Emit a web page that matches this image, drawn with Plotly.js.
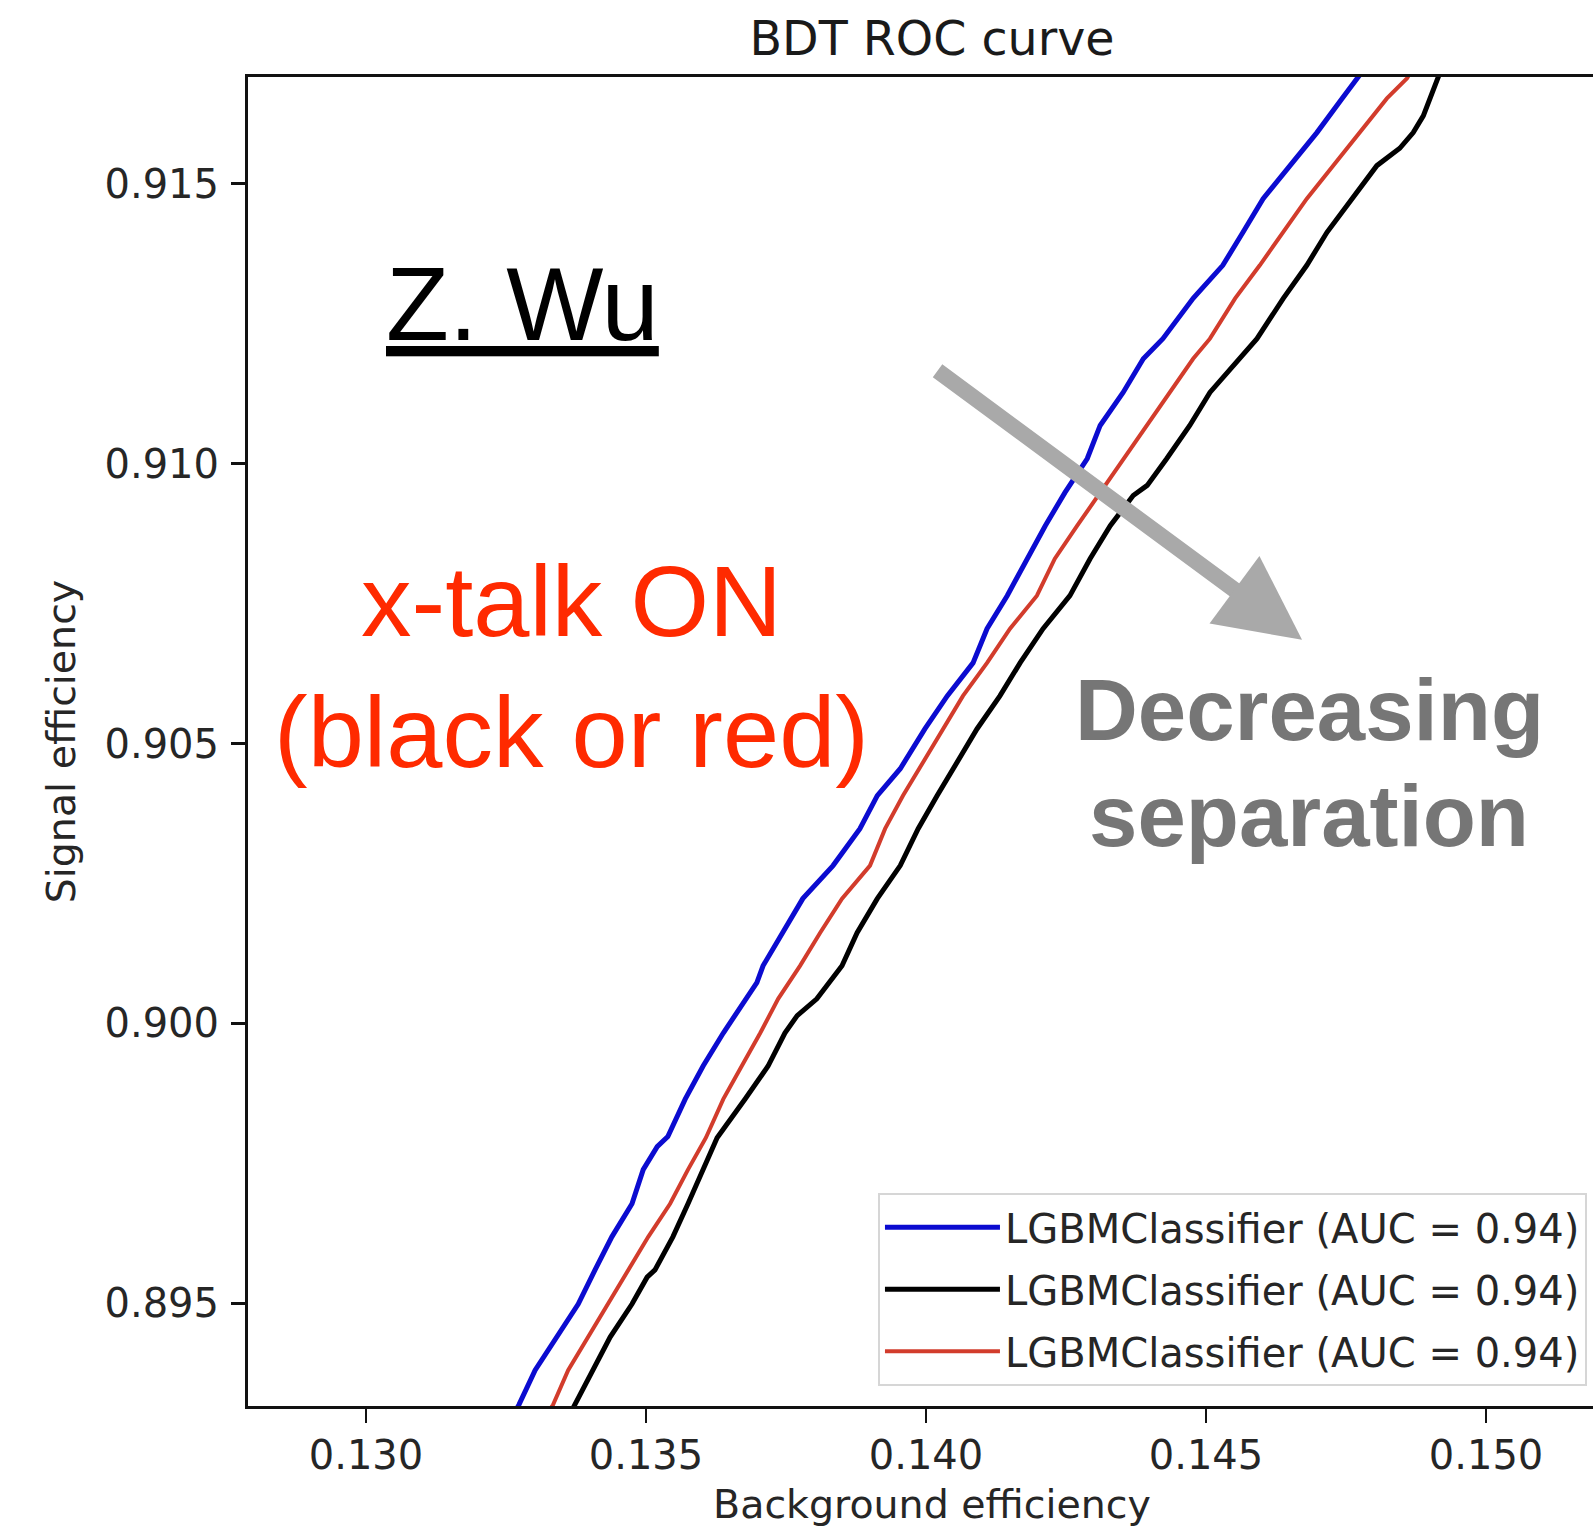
<!DOCTYPE html>
<html>
<head>
<meta charset="utf-8">
<script src="https://cdn.plot.ly/plotly-3.0.1.min.js"></script>
<style>
html, body { margin: 0; padding: 0; width: 1593px; height: 1527px; overflow: hidden; background: #fff; }
#chart { width: 1630px; height: 1527px; }
</style>
</head>
<body>
<div id="chart"></div>
<script>
// ---- Data ----
const seriesNames = ["LGBMClassifier (AUC = 0.94)", "LGBMClassifier (AUC = 0.94)", "LGBMClassifier (AUC = 0.94)"];
const seriesColors = ["#0b0bd0", "#000000", "#d23c2c"];

const bgEffBlue = [0.13266,0.13273,0.13302,0.13341,0.13379,0.13409,0.13439,0.13475,0.13495,0.13520,0.13539,0.13570,0.13602,0.13638,0.13677,0.13698,0.13709,0.13743,0.13780,0.13834,0.13882,0.13913,0.13954,0.13998,0.14038,0.14084,0.14109,0.14145,0.14180,0.14213,0.14248,0.14288,0.14311,0.14352,0.14388,0.14423,0.14477,0.14530,0.14566,0.14602,0.14650,0.14698,0.14743,0.14771,0.14782];
const sigEffBlue = [0.89306,0.89319,0.89381,0.89440,0.89499,0.89560,0.89619,0.89678,0.89739,0.89780,0.89798,0.89865,0.89924,0.89983,0.90044,0.90073,0.90103,0.90162,0.90223,0.90282,0.90348,0.90407,0.90455,0.90526,0.90585,0.90644,0.90705,0.90764,0.90830,0.90889,0.90948,0.91009,0.91068,0.91127,0.91187,0.91223,0.91295,0.91354,0.91413,0.91473,0.91532,0.91591,0.91652,0.91688,0.91704];

const bgEffBlack = [0.13366,0.13373,0.13404,0.13436,0.13475,0.13502,0.13516,0.13548,0.13575,0.13602,0.13627,0.13677,0.13718,0.13748,0.13770,0.13805,0.13850,0.13877,0.13913,0.13954,0.13986,0.14020,0.14055,0.14091,0.14132,0.14168,0.14209,0.14257,0.14293,0.14329,0.14370,0.14395,0.14430,0.14471,0.14507,0.14561,0.14591,0.14638,0.14680,0.14716,0.14761,0.14805,0.14846,0.14870,0.14888,0.14900,0.14914,0.14920];
const sigEffBlack = [0.89306,0.89319,0.89381,0.89440,0.89499,0.89547,0.89560,0.89619,0.89678,0.89739,0.89796,0.89865,0.89924,0.89983,0.90014,0.90044,0.90103,0.90162,0.90223,0.90282,0.90348,0.90407,0.90466,0.90526,0.90585,0.90644,0.90705,0.90764,0.90830,0.90889,0.90943,0.90961,0.91009,0.91068,0.91127,0.91187,0.91223,0.91295,0.91354,0.91413,0.91473,0.91532,0.91563,0.91591,0.91621,0.91652,0.91688,0.91704];

const bgEffRed = [0.13325,0.13334,0.13361,0.13396,0.13432,0.13468,0.13504,0.13543,0.13575,0.13607,0.13638,0.13671,0.13704,0.13736,0.13775,0.13811,0.13850,0.13900,0.13927,0.13959,0.13995,0.14030,0.14066,0.14109,0.14150,0.14198,0.14230,0.14270,0.14311,0.14352,0.14395,0.14436,0.14477,0.14507,0.14552,0.14596,0.14638,0.14680,0.14727,0.14775,0.14823,0.14859,0.14868];
const sigEffRed = [0.89306,0.89319,0.89381,0.89440,0.89499,0.89560,0.89619,0.89678,0.89739,0.89796,0.89865,0.89924,0.89983,0.90044,0.90103,0.90162,0.90223,0.90282,0.90348,0.90407,0.90466,0.90526,0.90585,0.90644,0.90705,0.90764,0.90830,0.90889,0.90948,0.91009,0.91068,0.91127,0.91187,0.91223,0.91295,0.91354,0.91413,0.91473,0.91532,0.91591,0.91652,0.91688,0.91704];

const xTickVals = [0.130, 0.135, 0.140, 0.145, 0.150];
const xTickText = ["0.130", "0.135", "0.140", "0.145", "0.150"];
const yTickVals = [0.895, 0.900, 0.905, 0.910, 0.915];
const yTickText = ["0.895", "0.900", "0.905", "0.910", "0.915"];
const xRange = [0.127893, 0.152321];
const yRange = [0.893169, 0.916903];

const chartTitle = "BDT ROC curve";
const xTitle = "Background efficiency";
const yTitle = "Signal efficiency";
const authorNote = "Z. Wu";
const redNote = "x-talk ON<br>(black or red)";
const grayNote1 = "Decreasing";
const grayNote2 = "separation";

// ---- Traces ----
const xs = [bgEffBlue, bgEffBlack, bgEffRed];
const ys = [sigEffBlue, sigEffBlack, sigEffRed];
const widths = [5, 5, 4];
const traces = xs.map((x, i) => ({
  type: "scatter",
  mode: "lines",
  x: x,
  y: ys[i],
  name: seriesNames[i],
  legendgroup: "g" + i,
  line: { color: seriesColors[i], width: widths[i] },
  hoverinfo: "skip"
}));

const tickFont = { family: "DejaVu Sans", size: 40, color: "#262626" };

const layout = {
  width: 1630,
  height: 1527,
  margin: { l: 248, r: 14, t: 77, b: 121, pad: 0 },
  paper_bgcolor: "#ffffff",
  plot_bgcolor: "#ffffff",
  title: {
    text: chartTitle,
    font: { family: "DejaVu Sans", size: 47.5, color: "#1a1a1a" },
    x: 0.5, xref: "paper", xanchor: "center",
    y: 1 - 38 / 1527, yref: "container", yanchor: "middle"
  },
  xaxis: {
    range: xRange,
    tickvals: xTickVals,
    ticktext: xTickText,
    ticks: "outside",
    ticklen: 14,
    tickwidth: 2.5,
    tickcolor: "#111",
    tickfont: tickFont,
    ticklabelstandoff: -2,
    showgrid: false,
    zeroline: false,
    showline: true,
    linecolor: "#111",
    linewidth: 3,
    mirror: true,
    title: { text: xTitle, font: { family: "DejaVu Sans", size: 39.5, color: "#262626" }, standoff: 22 }
  },
  yaxis: {
    range: yRange,
    tickvals: yTickVals,
    ticktext: yTickText,
    ticks: "outside",
    ticklen: 14,
    tickwidth: 2.5,
    tickcolor: "#111",
    tickfont: tickFont,
    ticklabelstandoff: 4,
    showgrid: false,
    zeroline: false,
    showline: true,
    linecolor: "#111",
    linewidth: 3,
    mirror: true,
    title: { text: yTitle, font: { family: "DejaVu Sans", size: 39.5, color: "#262626" }, standoff: 17 }
  },
  showlegend: true,
  legend: {
    x: 0.4605, xanchor: "left",
    y: 0.1604, yanchor: "top",
    bgcolor: "#ffffff",
    bordercolor: "#d6d6d6",
    borderwidth: 2,
    font: { family: "DejaVu Sans", size: 40, color: "#262626" },
    tracegroupgap: 7,
    traceorder: "grouped",
    itemwidth: 115
  },
  annotations: [
    {
      text: authorNote, xref: "paper", yref: "paper",
      x: 0.2003, y: 0.8285, xanchor: "center", yanchor: "middle",
      showarrow: false,
      font: { family: "Liberation Sans", size: 103, color: "#000000", lineposition: "under" }
    },
    {
      text: redNote, xref: "paper", yref: "paper",
      x: 0.2368, y: 0.5563, xanchor: "center", yanchor: "middle",
      showarrow: false, align: "center",
      font: { family: "Liberation Sans", size: 101, color: "#ff2a00" }
    },
    {
      text: grayNote1, xref: "paper", yref: "paper",
      x: 0.7756, y: 0.5239, xanchor: "center", yanchor: "middle",
      showarrow: false,
      font: { family: "Liberation Sans", size: 87, color: "#767676", weight: "bold" }
    },
    {
      text: grayNote2, xref: "paper", yref: "paper",
      x: 0.7756, y: 0.4441, xanchor: "center", yanchor: "middle",
      showarrow: false,
      font: { family: "Liberation Sans", size: 87, color: "#767676", weight: "bold" }
    },
    {
      text: "", xref: "paper", yref: "paper",
      x: 0.7705, y: 0.5766,
      showarrow: true,
      arrowhead: 2, arrowsize: 1.05, arrowwidth: 16, arrowcolor: "#a9a9a9",
      ax: -366, ay: -270, standoff: 0
    }
  ]
};

Plotly.newPlot("chart", traces, layout, { staticPlot: true, displayModeBar: false });
</script>
</body>
</html>
